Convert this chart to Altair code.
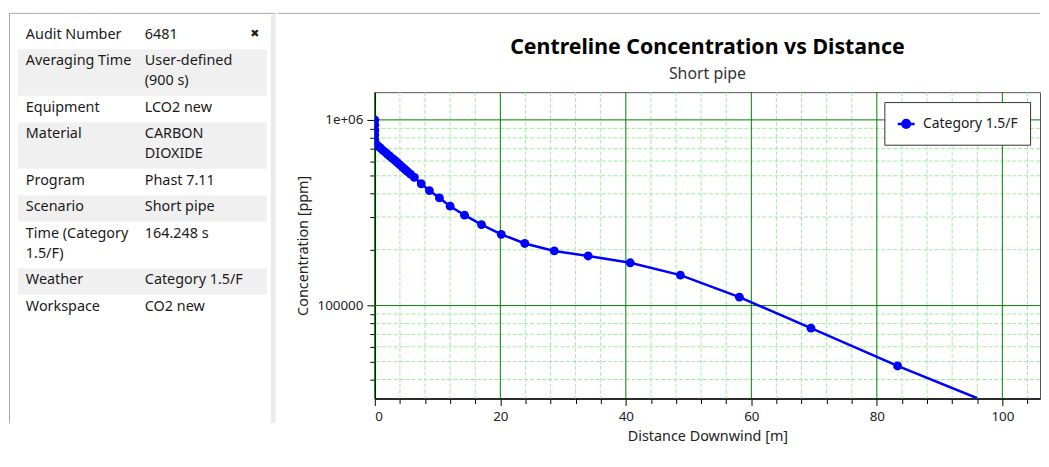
import altair as alt
import pandas as pd

FONT = "Noto Sans"

# ---------------- info table ----------------
row_labels = ["Audit Number", "Averaging Time", "Equipment", "Material", "Program",
              "Scenario", "Time (Category\n1.5/F)", "Weather", "Workspace"]
row_values = ["6481", "User-defined\n(900 s)", "LCO2 new", "CARBON\nDIOXIDE", "Phast 7.11",
              "Short pipe", "164.248 s", "Category 1.5/F", "CO2 new"]

# ---------------- series ----------------
series_name = "Category 1.5/F"
distance = [0.0, 0.0, 0.0, 0.0, 0.0, 0.05, 0.4, 0.8, 1.2, 1.6, 2.0, 2.4, 2.8, 3.2, 3.6,
            4.0, 4.4, 4.8, 5.2, 5.7, 6.3, 7.4, 8.7, 10.3, 12.0, 14.3, 17.0, 20.15, 23.9,
            28.6, 34.0, 40.7, 48.7, 58.1, 69.5, 83.3, 96.0]
concentration = [1.0e6, 9.4e5, 8.8e5, 8.3e5, 7.8e5, 7.45e5, 7.3e5, 7.1e5, 6.9e5, 6.72e5,
                 6.55e5, 6.38e5, 6.2e5, 6.05e5, 5.88e5, 5.72e5, 5.57e5, 5.42e5, 5.27e5,
                 5.1e5, 4.9e5, 4.53e5, 4.16e5, 3.8e5, 3.43e5, 3.07e5, 2.73e5, 2.42e5,
                 2.16e5, 1.97e5, 1.85e5, 1.70e5, 1.46e5, 1.11e5, 7.56e4, 4.73e4, 3.17e4]

x_major = [0, 20, 40, 60, 80, 100]
x_minor = [4, 8, 12, 16, 24, 28, 32, 36, 44, 48, 52, 56, 64, 68, 72, 76, 84, 88, 92, 96, 104]
y_major = [100000, 1000000]
y_minor = [40000, 50000, 60000, 70000, 80000, 90000,
           200000, 300000, 400000, 500000, 600000, 700000, 800000, 900000]

chart_title = "Centreline Concentration vs Distance"
chart_subtitle = "Short pipe"
x_title = "Distance Downwind [m]"
y_title = "Concentration [ppm]"

PW, PH = 671, 309          # plot area
TW = 260                   # table panel width
UP = 70                    # table rows start this far above the plot top

# ---------------- table chart ----------------
rows = []
top = 0.0
for i, (lab, val) in enumerate(zip(row_labels, row_values)):
    n = max(lab.count("\n"), val.count("\n")) + 1
    h = 6.8 + 20 * n
    rows.append({"idx": i, "label": lab, "value": val, "top": top, "bottom": top + h,
                 "ty": top + 5})
    top += h
rows_df = pd.DataFrame(rows)
tscale = alt.Scale(domain=[UP, UP + PH], reverse=True)

t_bg = alt.Chart(rows_df).transform_filter("datum.idx % 2 == 1").mark_rect(
    color="#f0f0f0").encode(
    x=alt.value(0), x2=alt.value(251),
    y=alt.Y("top:Q", scale=tscale, axis=None), y2="bottom:Q")
t_lab = alt.Chart(rows_df).mark_text(
    align="left", baseline="top", lineBreak="\n", lineHeight=20,
    font=FONT, fontSize=14.5, color="#1a1a1a").encode(
    x=alt.value(8), y=alt.Y("ty:Q", scale=tscale, axis=None), text="label:N")
t_val = alt.Chart(rows_df).mark_text(
    align="left", baseline="top", lineBreak="\n", lineHeight=20,
    font=FONT, fontSize=14.5, color="#1a1a1a").encode(
    x=alt.value(128), y=alt.Y("ty:Q", scale=tscale, axis=None), text="value:N")
t_close = alt.Chart(rows_df.head(1)).mark_text(
    align="center", baseline="top", font="DejaVu Sans", fontSize=11, color="#222",
    text="\u2716").encode(x=alt.value(239), y=alt.Y("ty:Q", scale=tscale, axis=None))
t_sep = alt.Chart(rows_df.head(1)).mark_rule(color="#ebebeb", strokeWidth=5).encode(
    x=alt.value(257.5), y=alt.value(-78), y2=alt.value(PH + 25))
t_topline = alt.Chart(rows_df.head(1)).mark_rule(color="#a8a8a8", strokeWidth=1).encode(
    x=alt.value(-9), x2=alt.value(TW), y=alt.value(-79.5))
t_leftline = alt.Chart(rows_df.head(1)).mark_rule(color="#a8a8a8", strokeWidth=1).encode(
    x=alt.value(-8.5), y=alt.value(-80), y2=alt.value(PH + 25))

table = alt.layer(t_sep, t_bg, t_lab, t_val, t_close, t_topline, t_leftline).properties(
    width=TW, height=PH, view=alt.ViewConfig(stroke=None))

# ---------------- line chart ----------------
df = pd.DataFrame({"distance": distance, "conc": concentration, "series": series_name})
df_pts = df.iloc[:-1]
titles_df = pd.DataFrame({"title": [chart_title], "subtitle": [chart_subtitle]})

xs = alt.Scale(domain=[0, 106], nice=False, zero=False)
ys = alt.Scale(type="log", domain=[31600, 1410000], nice=False)
cs = alt.Scale(domain=[series_name], range=["#0000ff"])

minor_x = alt.Chart(pd.DataFrame({"v": x_minor})).mark_rule(
    color="#9ded9d", strokeDash=[4, 2], strokeWidth=1).encode(
    x=alt.X("v:Q", scale=xs, axis=alt.Axis(values=x_minor, labels=False, tickSize=5,
                                           domain=False, grid=False, title=None,
                                           orient="bottom")))
minor_y = alt.Chart(pd.DataFrame({"v": y_minor})).mark_rule(
    color="#9ded9d", strokeDash=[4, 2], strokeWidth=1).encode(
    y=alt.Y("v:Q", scale=ys, axis=alt.Axis(values=y_minor, labels=False, tickSize=5,
                                           domain=False, grid=False, title=None,
                                           orient="left")))
major_x = alt.Chart(pd.DataFrame({"v": x_major})).mark_rule(
    color="#008000", strokeWidth=1).encode(x=alt.X("v:Q", scale=xs, axis=None))
major_y = alt.Chart(pd.DataFrame({"v": y_major})).mark_rule(
    color="#008000", strokeWidth=1).encode(y=alt.Y("v:Q", scale=ys, axis=None))
p_topline = alt.Chart(titles_df).mark_rule(color="#a8a8a8", strokeWidth=1).encode(
    x=alt.value(-98), x2=alt.value(PW), y=alt.value(-79.5))
p_title = alt.Chart(titles_df).mark_text(
    font=FONT, fontSize=21.5, fontWeight="bold", color="#000000",
    align="center", baseline="middle").encode(
    x=alt.value(PW / 2), y=alt.value(-45), text="title:N")
p_subtitle = alt.Chart(titles_df).mark_text(
    font=FONT, fontSize=16, color="#333333", align="center", baseline="middle").encode(
    x=alt.value(PW / 2), y=alt.value(-18), text="subtitle:N")

legend = alt.Legend(
    title=None, orient="top-right", offset=10, padding=12,
    strokeColor="#333333", fillColor="white",
    labelFont=FONT, labelFontSize=14, labelColor="#1a1a1a", labelOffset=7,
    symbolType="M-1,0L1,0M-0.45,0A0.45,0.45,0,1,0,0.45,0A0.45,0.45,0,1,0,-0.45,0Z",
    symbolSize=290, symbolStrokeWidth=2.5,
    symbolFillColor="#0000ff", symbolStrokeColor="#0000ff")

line = alt.Chart(df).mark_line(strokeWidth=2.5, clip=True).encode(
    x=alt.X("distance:Q", scale=xs,
            axis=alt.Axis(values=x_major, tickSize=7, grid=False, title=x_title,
                          orient="bottom", labelPadding=4, titlePadding=7)),
    y=alt.Y("conc:Q", scale=ys,
            axis=alt.Axis(values=y_major, tickSize=8, grid=False, title=y_title,
                          orient="left", labelPadding=4, titlePadding=7,
                          labelExpr="datum.value >= 1000000 ? '1e+06' : format(datum.value, 'd')")),
    color=alt.Color("series:N", scale=cs, legend=legend))
pts = alt.Chart(df_pts).mark_circle(size=80, opacity=1, clip=True).encode(
    x=alt.X("distance:Q", scale=xs, axis=None),
    y=alt.Y("conc:Q", scale=ys, axis=None),
    color=alt.Color("series:N", scale=cs, legend=legend))

plot = alt.layer(p_topline, p_title, p_subtitle, minor_x, minor_y, major_x, major_y,
                 line, pts).resolve_axis(
    x="independent", y="independent").properties(width=PW, height=PH)

chart = alt.hconcat(table, plot, spacing=0).resolve_legend(color="independent").resolve_scale(
    color="independent").properties(
    padding={"left": 0, "top": 2, "right": 0, "bottom": 0},
    background="white").configure_view(stroke="#555555", strokeWidth=1).configure_axis(
    labelFont=FONT, labelFontSize=13.5, labelColor="#222222",
    titleFont=FONT, titleFontSize=14.5, titleFontWeight="normal", titleColor="#222222",
    domainColor="#000000", domainWidth=1.5, tickColor="#000000", tickWidth=1)

chart.save("out.html", embed_options={"renderer": "svg", "actions": False})
